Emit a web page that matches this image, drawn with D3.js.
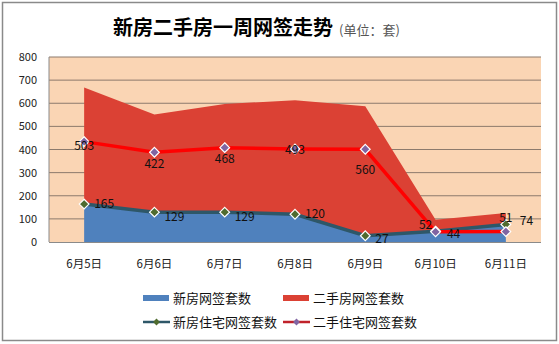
<!DOCTYPE html>
<html><head><meta charset="utf-8">
<script src="https://cdn.jsdelivr.net/npm/d3@7"></script>
<style>body{margin:0;background:#fff}svg{display:block}text{font-family:"Noto Sans CJK SC","DejaVu Sans",sans-serif}</style>
</head><body>
<svg id="c" width="559" height="344"></svg>
<script>
const categories = ["6月5日","6月6日","6月7日","6月8日","6月9日","6月10日","6月11日"];
const newHomes = [165,129,129,120,27,52,74];
const resaleHomes = [503,422,468,493,560,44,51];
const newResidential = [164,129,129,120,27,47,76];
const resaleResidential = [434,388,408,402,401,44,45];
const yTicks = [0,100,200,300,400,500,600,700,800];
const seriesNames = ["新房网签套数","二手房网签套数","新房住宅网签套数","二手住宅网签套数"];

const svg = d3.select("#c");
svg.append("rect").attr("x",2.5).attr("y",2.5).attr("width",554).attr("height",338)
  .attr("fill","#fff").attr("stroke","#8a8a8a").attr("stroke-width",1.5);

const L=49,R=541,T=57,B=242;
const x = d3.scaleBand().domain(categories).range([L,R]);
const cx = d => x(d)+x.bandwidth()/2;
const y = d3.scaleLinear().domain([0,800]).range([B,T]);

svg.append("rect").attr("x",L).attr("y",T).attr("width",R-L).attr("height",B-T).attr("fill","#FAD5B4");
svg.append("g").selectAll("line").data(yTicks.slice(1)).join("line")
  .attr("x1",L).attr("x2",R).attr("y1",d=>y(d)).attr("y2",d=>y(d))
  .attr("stroke","#8c7a6c").attr("stroke-width",1);

const rows = categories.map((c,i)=>({c,n:newHomes[i],r:resaleHomes[i]}));
const stack = d3.stack().keys(["n","r"])(rows);
const area = d3.area().x(d=>cx(d.data.c)).y0(d=>y(d[0])).y1(d=>y(d[1]));
svg.append("path").datum(stack[1]).attr("d",area).attr("fill","#DB4134");
svg.append("path").datum(stack[0]).attr("d",area).attr("fill","#4F81BD");

// axes
const ya = d3.axisLeft(y).tickValues(yTicks).tickSize(0).tickPadding(12);
const gy = svg.append("g").attr("transform",`translate(${L},0)`).call(ya);
gy.select(".domain").remove();
gy.selectAll("text").attr("font-size",11).attr("fill","#222").attr("font-family","DejaVu Sans, sans-serif");
svg.append("line").attr("x1",L).attr("x2",L).attr("y1",T).attr("y2",B).attr("stroke","#8a8a8a");
svg.append("line").attr("x1",L).attr("x2",R).attr("y1",B+0.5).attr("y2",B+0.5).attr("stroke","#8a8a8a");
const xa = d3.axisBottom(x).tickSize(0).tickPadding(18);
const gx = svg.append("g").attr("transform",`translate(0,${B})`).call(xa);
gx.select(".domain").remove();
gx.selectAll("text").attr("font-size",11.5).attr("fill","#222");

// lines
const line = d3.line().x((d,i)=>cx(categories[i])).y(d=>y(d));
svg.append("path").datum(newResidential).attr("d",line).attr("fill","none").attr("stroke","#2E5768").attr("stroke-width",3.5);
svg.append("path").datum(resaleResidential).attr("d",line).attr("fill","none").attr("stroke","#FF0000").attr("stroke-width",3.5);
const diamond = d3.symbol().type(d3.symbolDiamond2).size(60);
function markers(data, fill){
  svg.append("g").selectAll("path").data(data).join("path")
    .attr("d",diamond)
    .attr("transform",(d,i)=>`translate(${cx(categories[i])},${y(d)})`)
    .attr("fill",fill).attr("stroke","#fff").attr("stroke-width",1.2);
}
markers(newResidential,"#4F6B2F");
markers(resaleResidential,"#8064A2");

// data labels
const lbl = svg.append("g").attr("font-size",12).attr("fill","#111").attr("font-family","DejaVu Sans, sans-serif");
const newOff = [[10,4],[10,9],[10,9],[10,4],[10,7],[-10,-2],[14,1]];
newHomes.forEach((v,i)=>{
  lbl.append("text").attr("x",cx(categories[i])+newOff[i][0]).attr("y",y(newResidential[i])+newOff[i][1])
   .attr("text-anchor", newOff[i][0]<0?"middle":"start").text(v);
});
const resPos = [[0,150],[0,168],[0,163],[0,154],[0,174],[18,238],[0,222]];
resaleHomes.forEach((v,i)=>{
  lbl.append("text").attr("x",cx(categories[i])+resPos[i][0]).attr("y",resPos[i][1])
   .attr("text-anchor","middle").text(v);
});

// title
const t = svg.append("text").attr("x",113).attr("y",35).attr("text-anchor","start");
t.append("tspan").attr("font-size",20).attr("font-weight","bold").attr("fill","#000").text("新房二手房一周网签走势");
t.append("tspan").attr("font-size",13).attr("fill","#555").attr("dx",6).text("(单位：套)");

// legend
const lg = svg.append("g").attr("font-size",13).attr("fill","#111");
const lx=[143,283], ly=[298,322];
lg.append("rect").attr("x",lx[0]).attr("y",ly[0]-3).attr("width",26).attr("height",6).attr("fill","#4F81BD");
lg.append("rect").attr("x",lx[1]).attr("y",ly[0]-3).attr("width",26).attr("height",6).attr("fill","#DB4134");
[["#2E5768","#4F6B2F"],["#C0222A","#8064A2"]].forEach((c,k)=>{
  lg.append("line").attr("x1",lx[k]).attr("x2",lx[k]+27).attr("y1",ly[1]).attr("y2",ly[1]).attr("stroke",c[0]).attr("stroke-width",2.5);
  lg.append("path").attr("d",d3.symbol().type(d3.symbolDiamond2).size(30)).attr("transform",`translate(${lx[k]+13.5},${ly[1]})`).attr("fill",c[1]);
});
seriesNames.forEach((s,i)=>{
  lg.append("text").attr("x",lx[i%2]+30).attr("y",ly[Math.floor(i/2)]+4.5).text(s);
});
</script></body></html>
